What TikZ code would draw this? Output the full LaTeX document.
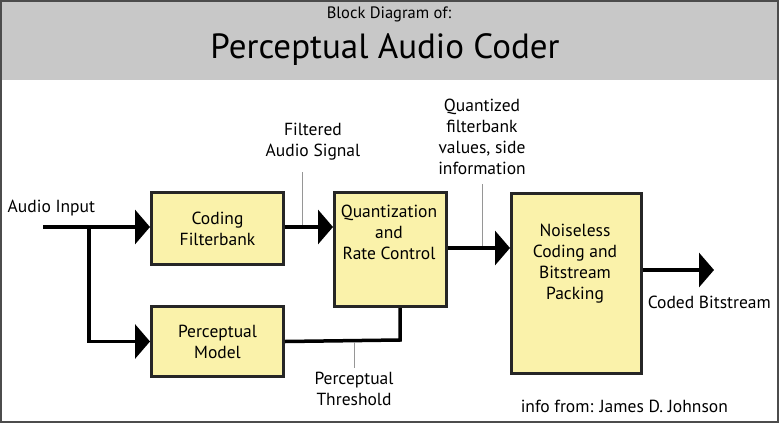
\documentclass[tikz,border=0pt]{standalone}
\usepackage{fontspec}
\setmainfont{PT Sans}
\usetikzlibrary{arrows.meta}
\definecolor{box_fill}{RGB}{250,242,170}
\definecolor{band_gray}{RGB}{200,200,200}
\definecolor{lead_gray}{RGB}{150,150,150}

\begin{document}
\begin{tikzpicture}[x=1pt,y=-1pt,line width=3.5pt,>={Triangle[length=15pt,width=34pt]}]
    \tikzstyle{block}=[draw=black!85, line width=3pt, fill=box_fill, anchor=north west, inner sep=0pt, align=center, font=\fontsize{17.5}{21}\selectfont]
    \tikzstyle{lbl}=[align=center, font=\fontsize{17.5}{21}\selectfont, inner sep=0pt]
    \tikzstyle{lead}=[draw=lead_gray, line width=0.8pt]

    \fill[white] (0,0) rectangle (779,423);
    \fill[band_gray] (0,0) rectangle (779,80);
    \draw[black!70, line width=2pt] (1,1) rectangle (778,422);
    \node[font=\fontsize{16.5}{19}\selectfont] (sub) at (389,14) {Block Diagram of:};
    \node[font=\fontsize{35}{40}\selectfont] (title) at (385,50) {Perceptual Audio Coder};

    \node[block, minimum width=132, minimum height=72] (cf) at (150,191) {Coding\\Filterbank};
    \node[block, minimum width=132, minimum height=70] (pm) at (150,305) {Perceptual\\Model};
    \node[block, minimum width=112, minimum height=114, anchor=north west] (qr) at (333,191) {};
    \node[lbl, anchor=north] (qrt) at (389,203) {Quantization\\and\\Rate Control};
    \node[block, minimum width=130, minimum height=180] (nc) at (510,192) {};
    \node[lbl, anchor=north] (nct) at (575,222) {Noiseless\\Coding and\\Bitstream\\Packing};

    \coordinate (in) at (43,227);
    \coordinate (split) at (89,227);
    \coordinate (out) at (714,270);
    \coordinate (thr) at (400,340);

    \draw[->] (in) -- (cf.west |- in);
    \draw[->] (split) |- (pm.west);
    \draw[->] (cf.east |- in) -- (qr.west |- in);
    \draw[->] (qr.east |- 0,248) -- (nc.west |- 0,248);
    \draw[->] (nc.east |- out) -- (out);
    \draw (pm.east) -- (thr) -- (thr |- qr.south);

    \node[lbl, anchor=west] (ain) at (6,208) {Audio Input};
    \node[lbl] (fas) at (313,142) {Filtered\\Audio Signal};
    \node[lbl] (qfv) at (482,137) {Quantized\\filterbank\\values, side\\information};
    \node[lbl] (pth) at (354,389) {Perceptual\\Threshold};
    \node[lbl, anchor=west] (cbs) at (646,302) {Coded Bitstream};
    \node[lbl, anchor=west] (info) at (519,406) {info from: James D. Johnson};

    \draw[lead] (302,172) -- (302,225);
    \draw[lead] (482,184) -- (482,246);
    \draw[lead] (354,342) -- (354,368);
\end{tikzpicture}
\end{document}
